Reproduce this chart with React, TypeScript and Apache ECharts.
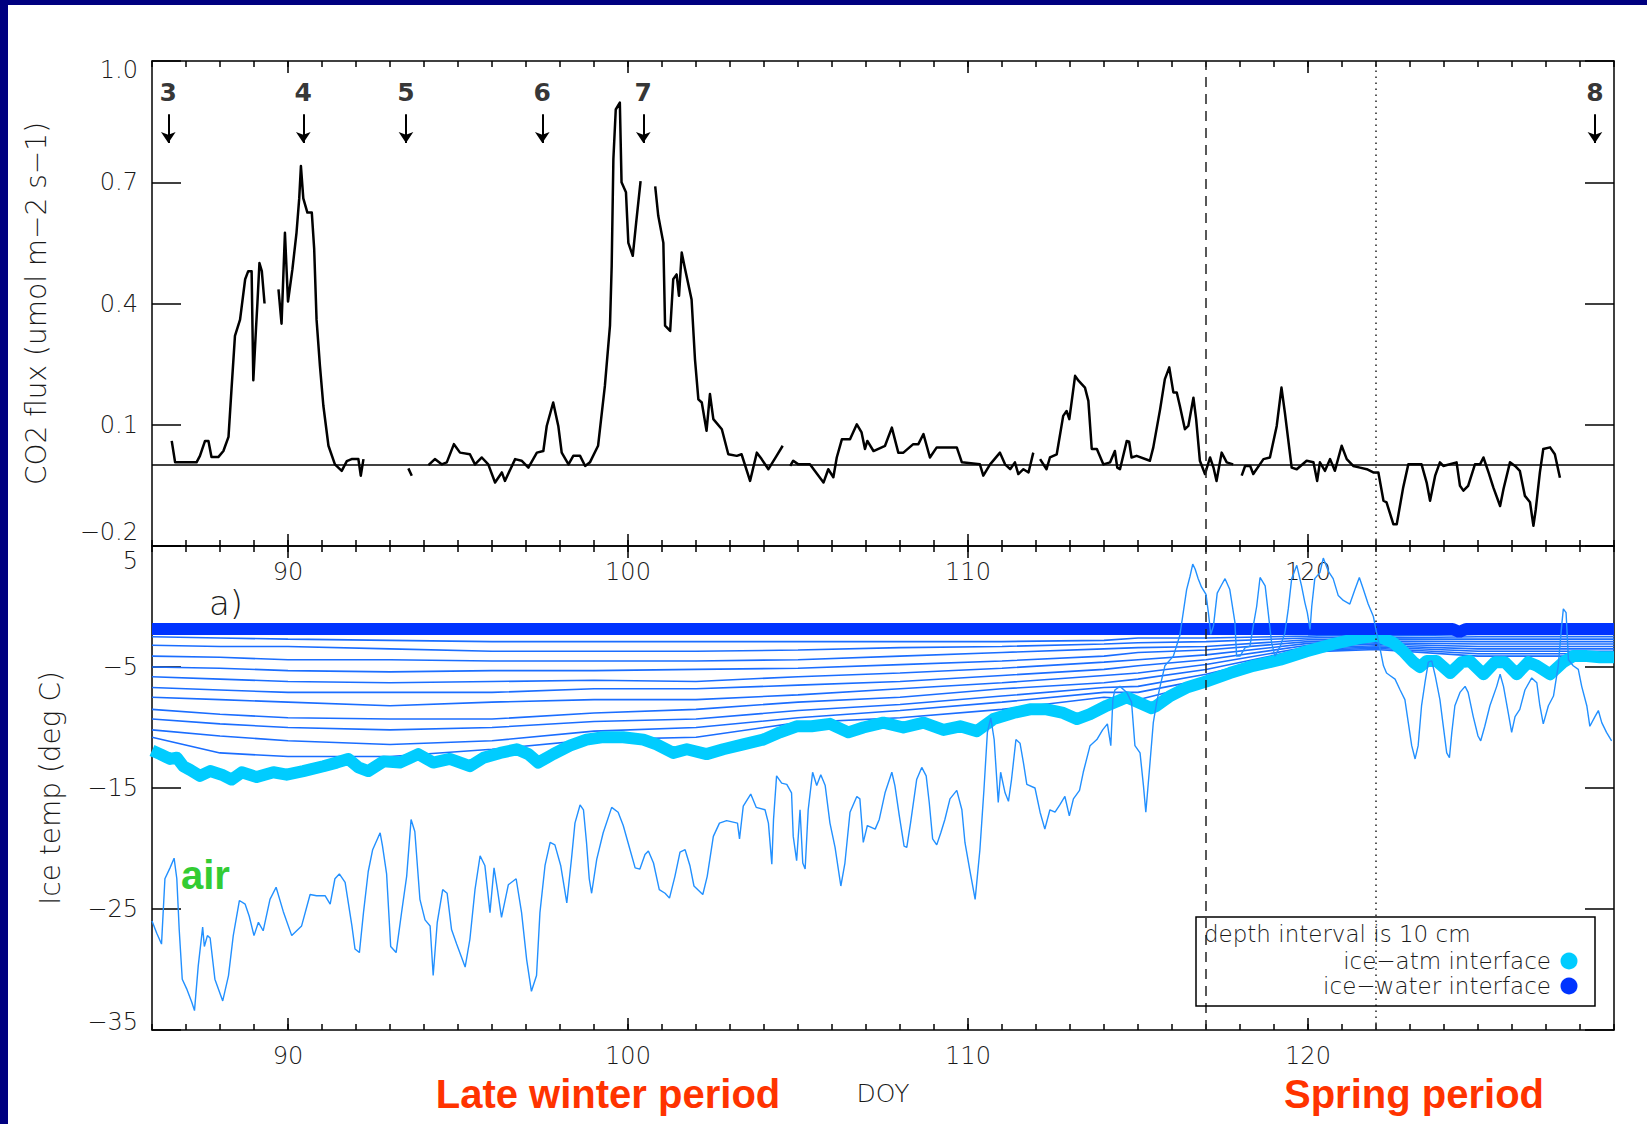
import React, { useEffect, useRef } from "react";
import * as echarts from "echarts";

// ---------- axes ----------
const xMin = 86;
const xMax = 129;
const majorDays = [90, 100, 110, 120];
const minorDays = [86, 87, 88, 89, 90, 91, 92, 93, 94, 95, 96, 97, 98, 99, 100, 101, 102, 103, 104, 105, 106, 107, 108, 109, 110, 111, 112, 113, 114, 115, 116, 117, 118, 119, 120, 121, 122, 123, 124, 125, 126, 127, 128, 129];
const co2Ticks = [-0.2, 0.1, 0.4, 0.7, 1.0];
const tempTicks = [-35, -25, -15, -5, 5];
const dashedDay = 117;
const dottedDay = 122;

// ---------- CO2 flux (null = data gap) ----------
const co2Days = [86.58, 86.68, 87.31, 87.41, 87.56, 87.66, 87.75, 87.95, 88.1, 88.25, 88.34, 88.44, 88.59, 88.74, 88.83, 88.93, 88.98, 89.06, 89.1, 89.16, 89.23, 89.31, 89.5,
  89.72, 89.81, 89.91, 90.0, 90.13, 90.25, 90.33, 90.38, 90.45, 90.57, 90.7, 90.77, 90.84, 90.94, 91.04, 91.19, 91.38, 91.58, 91.73, 91.87, 92.07, 92.14, 92.22, 92.9,
  93.54, 93.64, 93.9,
  94.13, 94.32, 94.52, 94.67, 94.88, 95.06, 95.35, 95.5, 95.7, 95.89, 96.09, 96.29, 96.38, 96.68, 96.87, 97.07, 97.32, 97.51, 97.61, 97.8, 97.95, 98.05, 98.25, 98.39, 98.59, 98.74, 98.88, 99.12, 99.32, 99.47, 99.52, 99.57, 99.64, 99.76, 99.81, 99.94, 100.01, 100.14, 100.24, 100.37, 100.6,
  100.8, 100.89, 101.04, 101.09, 101.24, 101.33, 101.43, 101.5, 101.58, 101.68, 101.87, 101.97, 102.07, 102.17, 102.31, 102.41, 102.51, 102.76, 102.95, 103.2, 103.34, 103.59, 103.79, 103.93, 104.13, 104.37, 104.55, 104.66,
  104.77, 104.86, 105.01, 105.35, 105.75, 105.89, 106.04, 106.14, 106.29, 106.53, 106.73, 106.87, 106.97, 107.04, 107.22, 107.56, 107.76, 107.95, 108.1, 108.39, 108.54, 108.69, 108.88, 109.08, 109.67, 109.82, 110.35, 110.45, 110.65, 110.94, 111.09, 111.24, 111.38, 111.48, 111.63, 111.78, 111.92, 112.02,
  112.12, 112.31, 112.41, 112.61, 112.8, 112.9, 112.98, 113.15, 113.25, 113.44, 113.54, 113.64, 113.79, 113.98, 114.18, 114.32, 114.39, 114.47, 114.67, 114.74, 114.81, 114.96, 115.35, 115.45, 115.65, 115.79, 115.92, 116.04, 116.14, 116.23, 116.38, 116.48, 116.63, 116.71, 116.82, 116.97, 117.12, 117.22, 117.31, 117.46, 117.61, 117.8, 117.92,
  118.05, 118.15, 118.3, 118.39, 118.69, 118.88, 119.08, 119.22, 119.32, 119.52, 119.67, 119.96, 120.16, 120.27, 120.35, 120.5, 120.65, 120.79, 120.99, 121.14, 121.33, 121.53, 121.73, 121.92, 122.07, 122.22, 122.31, 122.51, 122.61, 122.8, 122.95, 123.34, 123.49, 123.59, 123.74, 123.88, 123.98, 124.37, 124.47, 124.57, 124.71, 124.91, 125.06, 125.16, 125.31, 125.45, 125.65, 125.75, 125.94, 126.09, 126.23, 126.38, 126.53, 126.63, 126.7, 126.82, 126.92, 127.12, 127.26, 127.41];
const co2Flux = [0.06, 0.007, 0.007, 0.023, 0.06, 0.06, 0.02, 0.02, 0.035, 0.07, 0.19, 0.32, 0.36, 0.46, 0.48, 0.48, 0.21, 0.34, 0.4, 0.5, 0.48, 0.4, null,
  0.435, 0.35, 0.575, 0.405, 0.485, 0.575, 0.66, 0.74, 0.66, 0.625, 0.625, 0.535, 0.36, 0.245, 0.147, 0.048, 0.002, -0.014, 0.01, 0.015, 0.015, -0.026, 0.015, null,
  -0.008, -0.026, null,
  0.0, 0.015, 0.002, 0.007, 0.052, 0.031, 0.027, 0.002, 0.019, 0.002, -0.043, -0.018, -0.039, 0.015, 0.011, -0.006, 0.031, 0.035, 0.097, 0.155, 0.097, 0.031, 0.002, 0.023, 0.023, -0.002, 0.007, 0.048, 0.196, 0.345, 0.493, 0.757, 0.88, 0.897, 0.7, 0.675, 0.55, 0.518, 0.6, 0.703, null,
  0.69, 0.617, 0.55, 0.345, 0.332, 0.46, 0.472, 0.419, 0.526, 0.485, 0.41, 0.262, 0.163, 0.155, 0.085, 0.176, 0.114, 0.089, 0.027, 0.023, 0.027, -0.039, 0.031, 0.015, -0.01, 0.023, 0.048, null,
  -0.002, 0.011, 0.002, 0.002, -0.043, -0.01, -0.03, 0.019, 0.064, 0.064, 0.101, 0.081, 0.04, 0.06, 0.035, 0.048, 0.093, 0.031, 0.031, 0.052, 0.052, 0.077, 0.019, 0.044, 0.044, 0.007, 0.002, -0.026, 0.002, 0.031, 0.002, -0.01, 0.007, -0.022, -0.01, -0.018, 0.031, null,
  0.015, -0.01, 0.019, 0.027, 0.122, 0.134, 0.114, 0.221, 0.209, 0.192, 0.159, 0.04, 0.04, 0.002, 0.007, 0.035, -0.006, -0.01, 0.06, 0.058, 0.019, 0.023, 0.011, 0.044, 0.138, 0.213, 0.242, 0.18, 0.18, 0.147, 0.089, 0.097, 0.167, 0.114, 0.011, -0.022, 0.019, -0.006, -0.039, 0.031, 0.007, 0.002, null,
  -0.026, -0.002, -0.002, -0.022, 0.015, 0.019, 0.097, 0.192, 0.13, -0.006, -0.01, 0.011, 0.007, -0.039, 0.007, -0.014, 0.015, -0.014, 0.048, 0.015, -0.002, -0.006, -0.01, -0.018, -0.018, -0.088, -0.092, -0.146, -0.146, -0.055, 0.002, 0.002, -0.043, -0.088, -0.026, 0.007, -0.002, 0.007, -0.051, -0.063, -0.051, 0.002, 0.002, 0.019, -0.018, -0.055, -0.101, -0.059, 0.007, -0.002, -0.014, -0.076, -0.092, -0.15, -0.109, -0.018, 0.04, 0.044, 0.027, -0.031];

// ---------- sampling events ----------
const eventDays = [86.48, 90.45, 93.47, 97.48, 100.45, 128.44];
const eventLabels = ["3", "4", "5", "6", "7", "8"];

// ---------- air temperature ----------
const airDays = [86.0, 86.14, 86.28, 86.38, 86.53, 86.65, 86.73, 86.8, 86.89, 87.02, 87.17, 87.25, 87.36, 87.49, 87.54, 87.63, 87.71, 87.85, 88.08, 88.25, 88.39, 88.57, 88.74, 88.86, 89.0, 89.13, 89.27, 89.47, 89.65, 89.86, 90.11, 90.4, 90.65, 90.84, 91.09, 91.24, 91.38, 91.51, 91.68, 91.88, 91.97, 92.1, 92.22, 92.36, 92.49, 92.71, 92.78, 92.9, 93.02, 93.18, 93.34, 93.49, 93.62, 93.73, 93.88, 94.03, 94.18, 94.27, 94.39, 94.55, 94.68, 94.81, 94.96, 95.21, 95.35, 95.5, 95.65, 95.79, 95.94, 96.06, 96.16, 96.28, 96.48, 96.71, 96.87, 97.02, 97.16, 97.31, 97.41, 97.56, 97.71, 97.85, 98.02, 98.2, 98.34, 98.44, 98.59, 98.69, 98.78, 98.86, 98.93, 99.08, 99.27, 99.52, 99.71, 99.86, 100.06, 100.21, 100.35, 100.5, 100.6, 100.75, 100.92, 101.09, 101.22, 101.38, 101.53, 101.68, 101.82, 101.94, 102.2, 102.33, 102.51, 102.69, 102.9, 103.22, 103.28, 103.39, 103.61, 103.77, 104.03, 104.13, 104.23, 104.28, 104.37, 104.52, 104.67, 104.81, 104.86, 104.96, 105.06, 105.14, 105.21, 105.3, 105.43, 105.55, 105.67, 105.8, 105.94, 106.09, 106.26, 106.38, 106.53, 106.73, 106.82, 106.92, 107.04, 107.27, 107.39, 107.56, 107.76, 107.85, 107.98, 108.12, 108.2, 108.31, 108.49, 108.64, 108.77, 108.86, 108.96, 109.08, 109.2, 109.32, 109.47, 109.67, 109.82, 109.91, 110.06, 110.21, 110.35, 110.47, 110.57, 110.67, 110.77, 110.89, 110.96, 111.09, 111.19, 111.28, 111.41, 111.53, 111.63, 111.73, 111.97, 112.12, 112.26, 112.41, 112.56, 112.7, 112.85, 112.98, 113.1, 113.28, 113.39, 113.59, 113.79, 113.96, 114.1, 114.2, 114.26, 114.32, 114.47, 114.67, 114.81, 114.91, 115.06, 115.16, 115.23, 115.33, 115.45, 115.55, 115.65, 115.79, 116.04, 116.23, 116.33, 116.43, 116.53, 116.61, 116.68, 116.77, 116.87, 117.0, 117.07, 117.14, 117.22, 117.33, 117.46, 117.56, 117.7, 117.85, 117.9, 118.0, 118.15, 118.29, 118.39, 118.49, 118.59, 118.74, 118.83, 118.93, 119.03, 119.18, 119.32, 119.42, 119.52, 119.67, 119.81, 119.91, 119.98, 120.06, 120.11, 120.2, 120.35, 120.45, 120.6, 120.74, 120.89, 121.04, 121.23, 121.38, 121.51, 121.63, 121.77, 121.92, 122.02, 122.12, 122.22, 122.31, 122.41, 122.56, 122.71, 122.85, 122.95, 123.05, 123.15, 123.24, 123.34, 123.44, 123.54, 123.64, 123.74, 123.88, 123.98, 124.08, 124.16, 124.23, 124.32, 124.47, 124.62, 124.71, 124.86, 125.0, 125.08, 125.2, 125.35, 125.55, 125.65, 125.75, 125.89, 125.99, 126.09, 126.23, 126.38, 126.58, 126.73, 126.82, 126.92, 127.07, 127.22, 127.36, 127.46, 127.51, 127.59, 127.66, 127.8, 127.95, 128.05, 128.2, 128.29, 128.44, 128.54, 128.64, 128.78, 128.93];
const airTemp = [-26.0, -27.0, -27.9, -22.5, -21.6, -20.8, -22.5, -26.7, -30.8, -31.6, -32.7, -33.4, -29.7, -26.5, -28.1, -27.2, -27.4, -30.8, -32.6, -30.5, -27.2, -24.3, -24.6, -25.6, -27.2, -26.1, -26.8, -24.2, -23.2, -25.2, -27.2, -26.4, -23.8, -23.9, -23.9, -24.6, -22.5, -22.1, -22.8, -26.4, -28.3, -28.6, -25.3, -21.9, -20.1, -18.7, -19.8, -22.1, -28.1, -28.6, -25.3, -22.3, -17.6, -18.6, -24.2, -25.9, -26.4, -30.5, -26.1, -23.4, -23.7, -26.7, -27.9, -29.8, -27.5, -23.4, -20.6, -21.4, -25.3, -21.6, -23.4, -25.7, -23.0, -22.5, -25.3, -29.2, -31.8, -30.5, -25.3, -21.4, -19.5, -19.7, -21.4, -24.5, -20.8, -17.9, -16.4, -16.8, -19.5, -22.5, -23.7, -20.9, -18.7, -16.6, -17.0, -18.1, -20.1, -21.6, -21.7, -20.5, -20.2, -21.2, -23.4, -23.7, -24.1, -22.3, -20.3, -20.1, -21.4, -23.1, -23.8, -22.3, -19.0, -17.9, -17.7, -17.9, -19.2, -16.5, -15.5, -16.6, -16.8, -17.9, -21.3, -17.6, -14.0, -14.6, -14.7, -15.4, -19.0, -21.0, -16.8, -21.2, -21.7, -16.8, -13.7, -14.8, -13.9, -14.8, -17.9, -19.9, -23.1, -21.2, -17.0, -15.7, -15.9, -19.5, -18.1, -18.4, -17.6, -15.4, -13.7, -14.8, -17.3, -19.8, -19.9, -17.9, -14.3, -13.3, -14.0, -16.2, -19.2, -19.7, -18.7, -17.6, -15.9, -15.2, -16.8, -19.5, -21.9, -24.2, -20.1, -15.1, -10.4, -9.2, -11.0, -16.2, -13.7, -15.4, -16.1, -14.3, -11.0, -11.3, -12.9, -14.7, -15.0, -17.0, -18.4, -16.8, -17.0, -16.4, -15.7, -17.3, -15.9, -15.2, -13.7, -11.5, -11.0, -10.2, -9.7, -11.5, -7.7, -6.9, -6.6, -7.1, -7.9, -11.5, -12.1, -14.8, -17.0, -13.7, -9.6, -7.9, -6.6, -4.9, -4.1, -2.4, -0.5, 1.4, 2.5, 3.5, 3.1, 2.3, 1.6, 1.0, -0.5, -2.3, -1.6, 1.1, 1.8, 2.3, 1.4, -1.3, -4.1, -4.1, -3.4, -3.3, -1.6, 0.0, 2.4, 1.7, -0.5, -3.0, -4.1, -3.3, -2.2, -0.2, 2.3, 3.4, 1.7, 0.3, -0.5, -1.9, 0.0, 2.3, 2.8, 4.0, 2.9, 2.3, 0.9, 0.5, 0.2, 1.4, 2.4, 1.4, 0.2, -0.8, -2.2, -3.5, -4.9, -5.5, -5.7, -6.0, -6.9, -7.7, -9.6, -11.5, -12.6, -11.5, -8.2, -6.3, -4.6, -4.5, -5.7, -7.7, -9.9, -12.1, -12.5, -10.4, -8.2, -7.1, -6.6, -7.1, -9.1, -10.7, -11.1, -9.9, -8.2, -6.6, -5.6, -6.6, -8.8, -10.4, -9.1, -8.5, -6.9, -5.9, -6.3, -8.2, -9.7, -8.2, -7.4, -4.9, -1.6, -0.2, -0.5, -4.4, -4.9, -5.2, -6.6, -8.2, -9.9, -9.1, -8.6, -9.6, -10.4, -11.1];

// ---------- ice-atmosphere interface ----------
const atmDays = [86.0, 86.24, 86.53, 86.73, 86.92, 87.12, 87.41, 87.71, 88.05, 88.34, 88.64, 89.08, 89.57, 89.96, 90.45, 91.04, 91.43, 91.77, 92.07, 92.36, 92.81, 93.29, 93.83, 94.27, 94.76, 95.35, 95.75, 96.24, 96.73, 97.07, 97.36, 97.8, 98.29, 98.78, 99.27, 99.86, 100.45, 100.84, 101.33, 101.73, 102.31, 102.8, 103.39, 103.98, 104.47, 104.96, 105.4, 105.94, 106.48, 106.92, 107.51, 108.1, 108.69, 109.28, 109.77, 110.26, 110.75, 111.33, 111.82, 112.31, 112.8, 113.2, 113.59, 114.08, 114.67, 115.4, 115.55, 115.94, 116.43, 117.0, 117.7, 118.39, 119.18, 119.96, 120.74, 121.53, 122.02, 122.51, 122.8, 123.1, 123.29, 123.49, 123.78, 124.18, 124.52, 124.76, 125.16, 125.5, 125.79, 126.14, 126.48, 126.73, 127.12, 127.51, 127.8, 128.2, 128.58, 129.0];
const atmTemp = [-11.9, -12.2, -12.6, -12.5, -13.2, -13.5, -14.0, -13.6, -13.9, -14.3, -13.7, -14.1, -13.7, -13.9, -13.6, -13.2, -12.9, -12.6, -13.3, -13.6, -12.8, -12.9, -12.2, -12.9, -12.6, -13.2, -12.5, -12.1, -11.8, -12.2, -12.9, -12.2, -11.5, -11.0, -10.8, -10.8, -11.0, -11.4, -12.1, -11.8, -12.2, -11.8, -11.4, -11.0, -10.4, -9.9, -9.9, -9.7, -10.4, -10.0, -9.6, -10.0, -9.6, -10.2, -9.9, -10.3, -9.3, -8.8, -8.5, -8.5, -8.8, -9.3, -8.9, -8.2, -7.5, -8.4, -8.2, -7.4, -6.7, -6.2, -5.5, -4.9, -4.4, -3.7, -3.1, -2.6, -2.4, -3.0, -3.7, -4.6, -5.0, -4.5, -4.5, -5.5, -4.6, -4.5, -5.6, -4.6, -4.6, -5.6, -4.6, -4.9, -5.6, -4.6, -4.1, -4.1, -4.2, -4.2];

// ---------- ice-water interface ----------
const waterDays = [86.0, 117.0, 124.25, 124.45, 124.65, 129.0];
const waterTemp = [-1.85, -1.85, -1.85, -2.1, -1.85, -1.85];

// ---------- ice temperature at 10 cm depth intervals ----------
const depthDays = [86, 88, 90, 93, 96, 99, 102, 105, 108, 111, 114, 115, 117, 120, 122, 125, 129];
const depthA = [-2.5, -2.6, -2.7, -2.8, -2.9, -2.9, -2.9, -2.9, -2.9, -2.9, -2.8, -2.6, -2.6, -2.45, -2.3, -2.1, -2.1];
const depthB = [-3.2, -3.3, -3.3, -3.5, -3.7, -3.7, -3.7, -3.6, -3.4, -3.3, -3.1, -3.0, -2.9, -2.6, -2.45, -2.3, -2.3];
const depthC = [-4.1, -4.2, -4.4, -4.4, -4.5, -4.5, -4.5, -4.4, -4.1, -3.8, -3.5, -3.4, -3.3, -2.75, -2.6, -2.5, -2.5];
const depthD = [-5.0, -5.1, -5.3, -5.4, -5.3, -5.3, -5.2, -5.1, -4.8, -4.5, -4.1, -3.8, -3.6, -2.9, -2.7, -2.7, -2.7];
const depthE = [-5.8, -6.0, -6.2, -6.3, -6.2, -6.1, -6.2, -5.8, -5.5, -5.1, -4.6, -4.4, -4.0, -3.05, -2.85, -2.9, -2.9];
const depthF = [-6.7, -6.9, -7.1, -7.1, -7.1, -6.8, -6.8, -6.5, -6.2, -5.7, -5.2, -4.9, -4.4, -3.2, -3.0, -3.1, -3.1];
const depthG = [-7.5, -7.7, -7.9, -8.2, -7.9, -7.7, -7.7, -7.3, -6.8, -6.3, -5.7, -5.5, -4.8, -3.35, -3.1, -3.3, -3.3];
const depthH = [-8.5, -8.9, -9.2, -9.3, -9.3, -8.8, -8.5, -7.9, -7.5, -6.8, -6.3, -6.0, -5.2, -3.45, -3.25, -3.5, -3.5];
const depthI = [-9.3, -9.7, -10.0, -10.2, -10.0, -9.5, -9.3, -8.6, -8.1, -7.4, -6.7, -6.6, -5.6, -3.55, -3.35, -3.7, -3.7];
const depthJ = [-10.2, -10.7, -11.1, -11.4, -11.1, -10.3, -10.0, -9.2, -8.6, -7.9, -7.1, -7.1, -6.0, -3.65, -3.45, -3.9, -3.9];
const depthK = [-10.8, -12.1, -12.4, -12.4, -11.8, -11.0, -10.8, -9.6, -9.2, -8.5, -7.5, -7.7, -6.3, -3.75, -3.55, -4.1, -4.1];
const depthSeries = [depthA, depthB, depthC, depthD, depthE, depthF, depthG, depthH, depthI, depthJ, depthK];

// ---------- styling ----------
const THIN = "'DejaVu Sans', 'Open Sans', sans-serif";
const BOLD = "'Liberation Sans', Arial, sans-serif";
const INK = "#1a1a1a";
const lineBlack = { color: "#000", width: 1.5 };
const labelFont = { fontSize: 24, fontFamily: THIN, fontWeight: 200, color: INK };

const pairs = (xs: number[], ys: (number | null)[]) => xs.map((x, i) => [x, ys[i] === null ? "-" : ys[i]]);
const minus = (s: string) => s.replace("-", "\u2212");

// end labels are nudged inward, as in the reference
const edgeRich = {
  up: { ...labelFont, padding: [0, 0, 17, 0] },
  up2: { ...labelFont, padding: [0, 0, 28, 0] },
  dn: { ...labelFont, padding: [17, 0, 0, 0] },
  dn2: { ...labelFont, padding: [30, 0, 0, 0] },
};

function xAxisDef(gridIndex: number, position: "top" | "bottom", major: boolean, labels: boolean, extra: any = {}) {
  return {
    type: "value",
    gridIndex,
    position,
    min: xMin,
    max: xMax,
    axisLine: { show: major, onZero: false, lineStyle: lineBlack },
    axisTick: { show: true, inside: true, length: major ? 12 : 6, lineStyle: lineBlack, customValues: major ? majorDays : minorDays },
    axisLabel: { show: labels, customValues: majorDays, margin: 14, ...labelFont },
    splitLine: { show: false },
    ...extra,
  };
}

function yAxisDef(gridIndex: number, position: "left" | "right", min: number, max: number, ticks: number[], fmt: ((v: number) => string) | null, extra: any = {}) {
  return {
    type: "value",
    gridIndex,
    position,
    min,
    max,
    axisLine: { show: true, onZero: false, lineStyle: lineBlack },
    axisTick: { show: true, inside: true, length: 29, lineStyle: lineBlack, customValues: ticks },
    axisLabel: {
      show: !!fmt,
      customValues: ticks,
      formatter: fmt || undefined,
      margin: 14,
      ...labelFont,
      rich: edgeRich,
    },
    splitLine: { show: false },
    ...extra,
  };
}

const co2Label = (v: number) => {
  const s = minus(v.toFixed(1));
  if (v > 0.95) return "{dn|" + s + "}";
  if (v < -0.15) return "{up2|" + s + "}";
  return s;
};
const tempLabel = (v: number) => {
  const s = minus(String(Math.round(v)));
  if (v > 4) return "{dn2|" + s + "}";
  if (v < -34) return "{up|" + s + "}";
  return s;
};

const vLines = [
  { xAxis: dashedDay, lineStyle: { color: "#222", width: 1.5, type: [10, 7] } },
  { xAxis: dottedDay, lineStyle: { color: "#222", width: 1.5, type: [1.5, 4.5] } },
];

function buildOption() {
  const nameStyle = { fontSize: 28, fontFamily: THIN, fontWeight: 200, color: INK };
  const series: any[] = [];

  series.push({
    type: "line",
    name: "CO2 flux",
    xAxisIndex: 0,
    yAxisIndex: 0,
    data: pairs(co2Days, co2Flux),
    showSymbol: false,
    connectNulls: false,
    lineStyle: { color: "#000", width: 2.5, join: "round" },
    z: 3,
    markLine: {
      silent: true,
      symbol: "none",
      label: { show: false },
      data: [
        { yAxis: 0, lineStyle: { color: "#000", width: 1.5, type: "solid" } },
        ...vLines,
        ...eventDays.map((d) => [
          { coord: [d, 0.868], symbol: "none", lineStyle: { color: "#000", width: 2, type: "solid" } },
          { coord: [d, 0.797], symbol: "arrow", symbolSize: 11 },
        ]),
      ],
    },
  });

  series.push({
    type: "scatter",
    name: "events",
    xAxisIndex: 0,
    yAxisIndex: 0,
    data: eventDays.map((d, i) => [d, 0.921, eventLabels[i]]),
    symbolSize: 0.1,
    itemStyle: { color: "transparent" },
    silent: true,
    label: {
      show: true,
      position: "inside",
      formatter: (p: any) => p.value[2],
      fontSize: 25,
      fontWeight: "bold",
      fontFamily: THIN,
      color: "#000",
    },
  });

  depthSeries.forEach((vals, i) => {
    series.push({
      type: "line",
      name: "depth " + (i + 1),
      xAxisIndex: 4,
      yAxisIndex: 2,
      data: pairs(depthDays, vals),
      showSymbol: false,
      lineStyle: { color: "#1a6dff", width: 1.6 },
      z: 2,
    });
  });

  series.push({
    type: "line",
    name: "ice\u2212atm interface",
    xAxisIndex: 4,
    yAxisIndex: 2,
    data: pairs(atmDays, atmTemp),
    showSymbol: false,
    lineStyle: { color: "#00ccff", width: 12, join: "round" },
    z: 3,
  });

  series.push({
    type: "line",
    name: "ice\u2212water interface",
    xAxisIndex: 4,
    yAxisIndex: 2,
    data: pairs(waterDays, waterTemp),
    showSymbol: false,
    lineStyle: { color: "#0033ff", width: 12 },
    z: 4,
  });

  series.push({
    type: "line",
    name: "air",
    xAxisIndex: 4,
    yAxisIndex: 2,
    data: pairs(airDays, airTemp),
    showSymbol: false,
    lineStyle: { color: "#2290ff", width: 1.4 },
    z: 5,
    markLine: { silent: true, symbol: "none", label: { show: false }, data: vLines },
  });

  const legendText = { fontSize: 23, lineHeight: 18, fontFamily: THIN, fontWeight: 200, fill: INK, verticalAlign: "middle" };

  return {
    animation: false,
    backgroundColor: "#ffffff",
    textStyle: { fontFamily: THIN },
    grid: [
      { left: 152, top: 61, width: 1462, height: 485, outerBoundsMode: "none", containLabel: false },
      { left: 152, top: 546, width: 1462, height: 484, outerBoundsMode: "none", containLabel: false },
    ],
    xAxis: [
      xAxisDef(0, "bottom", true, true),
      xAxisDef(0, "bottom", false, false),
      xAxisDef(0, "top", true, false),
      xAxisDef(0, "top", false, false),
      xAxisDef(1, "bottom", true, true, {
        name: "DOY",
        nameLocation: "middle",
        nameGap: 51,
        nameMoveOverlap: false,
        nameTextStyle: { fontSize: 25, fontFamily: THIN, fontWeight: 200, color: INK },
      }),
      xAxisDef(1, "bottom", false, false),
      xAxisDef(1, "top", true, false),
      xAxisDef(1, "top", false, false),
    ],
    yAxis: [
      yAxisDef(0, "left", -0.2, 1.0, co2Ticks, co2Label, {
        name: "CO2 flux (umol m\u22122 s\u22121)",
        nameLocation: "middle",
        nameRotate: 90,
        nameGap: 102,
        nameMoveOverlap: false,
        nameTextStyle: nameStyle,
      }),
      yAxisDef(0, "right", -0.2, 1.0, co2Ticks, null),
      yAxisDef(1, "left", -35, 5, tempTicks, tempLabel, {
        name: "Ice temp (deg C)",
        nameLocation: "middle",
        nameRotate: 90,
        nameGap: 88,
        nameMoveOverlap: false,
        nameTextStyle: nameStyle,
      }),
      yAxisDef(1, "right", -35, 5, tempTicks, null),
    ],
    series,
    graphic: [
      { type: "rect", silent: true, shape: { x: 0, y: 0, width: 1647, height: 5 }, style: { fill: "#000080" } },
      { type: "rect", silent: true, shape: { x: 0, y: 0, width: 8, height: 1124 }, style: { fill: "#000080" } },
      { type: "text", silent: true, x: 209, y: 603, style: { text: "a)", fontSize: 34, fontFamily: THIN, fontWeight: 200, fill: INK, align: "left", verticalAlign: "middle" } },
      { type: "text", silent: true, x: 181, y: 875, style: { text: "air", fontSize: 40, fontFamily: BOLD, fontWeight: "bold", fill: "#33cc33", align: "left", verticalAlign: "middle" } },
      { type: "text", silent: true, x: 608, y: 1094, style: { text: "Late winter period", fontSize: 40, fontFamily: BOLD, fontWeight: "bold", fill: "#ff3300", align: "center", verticalAlign: "middle" } },
      { type: "text", silent: true, x: 1414, y: 1094, style: { text: "Spring period", fontSize: 40, fontFamily: BOLD, fontWeight: "bold", fill: "#ff3300", align: "center", verticalAlign: "middle" } },
      { type: "rect", silent: true, z: 10, shape: { x: 1196, y: 917, width: 399, height: 89 }, style: { fill: "none", stroke: "#000", lineWidth: 1.5 } },
      { type: "text", silent: true, z: 10, x: 1204, y: 934, style: { ...legendText, text: "depth interval is 10 cm", align: "left" } },
      { type: "text", silent: true, z: 10, x: 1551, y: 961, style: { ...legendText, text: "ice\u2212atm interface", align: "right" } },
      { type: "text", silent: true, z: 10, x: 1551, y: 986, style: { ...legendText, text: "ice\u2212water interface", align: "right" } },
      { type: "circle", silent: true, z: 10, shape: { cx: 1569, cy: 961, r: 8.5 }, style: { fill: "#00ccff" } },
      { type: "circle", silent: true, z: 10, shape: { cx: 1569, cy: 986, r: 8.5 }, style: { fill: "#0033ff" } },
    ],
  };
}

export default function App() {
  const ref = useRef<HTMLDivElement>(null);
  useEffect(() => {
    if (!ref.current) return;
    const chart = echarts.init(ref.current, null, { renderer: "svg", width: 1647, height: 1124 });
    chart.setOption(buildOption() as any);
    return () => chart.dispose();
  }, []);
  return (
    <div
      ref={ref}
      style={{ position: "fixed", left: 0, top: 0, width: 1647, height: 1124, background: "#ffffff" }}
    />
  );
}
